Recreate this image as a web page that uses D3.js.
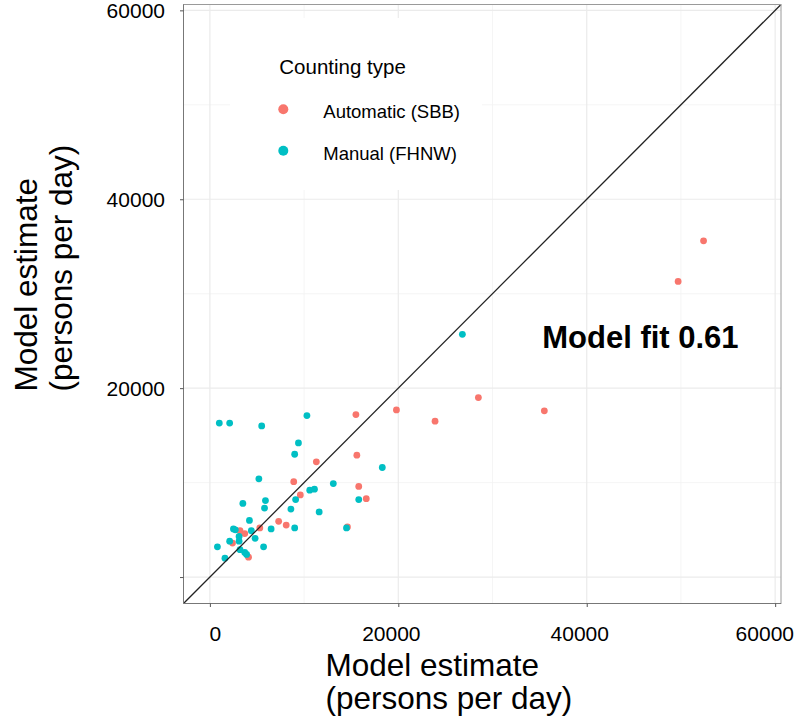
<!DOCTYPE html>
<html>
<head>
<meta charset="utf-8">
<script src="https://cdn.jsdelivr.net/npm/d3@7"></script>
<style>
  html, body { margin: 0; padding: 0; background: #fff; }
  svg text { font-family: "Liberation Sans", Arial, Helvetica, sans-serif; fill: #000; }
</style>
</head>
<body>
<svg id="chart" width="797" height="721"></svg>
<script>
// ---- data ----
const autoX = [52400, 49700, 28500, 35500, 23900, 19800, 15500, 15600, 11300, 15800, 16600, 8900, 9600, 7300, 8100, 14600, 5300, 3200, 3700, 2400, 4100];
const autoY = [35600, 31300, 19000, 17600, 16500, 17700, 17200, 12900, 12200, 9600, 8300, 10100, 8700, 5900, 5500, 5300, 5200, 4900, 4600, 3600, 2100];
const manualX = [26800, 1000, 2100, 5500, 10300, 9400, 9000, 18300, 5200, 13100, 10600, 11100, 5900, 9100, 15800, 3500, 5800, 8600, 11600, 4200, 9000, 14500, 6500, 2500, 2700, 4400, 3100, 4800, 2100, 3100, 800, 5700, 3200, 3700, 3900, 1600];
const manualY = [25700, 16300, 16300, 16000, 17100, 14200, 13000, 11600, 10400, 9900, 9200, 9300, 8100, 8200, 8200, 7800, 7300, 7200, 6900, 6000, 5200, 5200, 5100, 5100, 5000, 4900, 4300, 4100, 3800, 3800, 3200, 3200, 2900, 2600, 2400, 2000];
const seriesNames = ["Automatic (SBB)", "Manual (FHNW)"];
const seriesColors = ["#F8766D", "#00BFC4"];
const legendTitle = "Counting type";
const majorTicks = [0, 20000, 40000, 60000];
const minorTicks = [10000, 30000, 50000];
const xTickLabels = ["0", "20000", "40000", "60000"];
const yTickLabels = ["", "20000", "40000", "60000"];
const axisTitleLines = ["Model estimate", "(persons per day)"];
const annotationText = "Model fit 0.61";
const annotationX = 45700, annotationY = 25400;
const domain = [-2800, 60620];

// ---- layout ----
const svg = d3.select("#chart");
const L = 183.5, R = 781, T = 4.5, B = 603.5;
const x = d3.scaleLinear().domain(domain).range([L, R]);
const y = d3.scaleLinear().domain(domain).range([B, T]);

// panel background
svg.append("rect").attr("x", L).attr("y", T).attr("width", R - L).attr("height", B - T).attr("fill", "#fff");

// grid
const grid = svg.append("g");
minorTicks.forEach(v => {
  grid.append("line").attr("x1", x(v)).attr("x2", x(v)).attr("y1", T).attr("y2", B)
    .attr("stroke", "#f2f2f2").attr("stroke-width", 0.8);
  grid.append("line").attr("x1", L).attr("x2", R).attr("y1", y(v)).attr("y2", y(v))
    .attr("stroke", "#f2f2f2").attr("stroke-width", 0.8);
});
majorTicks.forEach(v => {
  grid.append("line").attr("x1", x(v)).attr("x2", x(v)).attr("y1", T).attr("y2", B)
    .attr("stroke", "#ebebeb").attr("stroke-width", 1.2);
  grid.append("line").attr("x1", L).attr("x2", R).attr("y1", y(v)).attr("y2", y(v))
    .attr("stroke", "#ebebeb").attr("stroke-width", 1.2);
});

// points
const autoData = autoX.map((v, i) => ({x: v, y: autoY[i]}));
const manualData = manualX.map((v, i) => ({x: v, y: manualY[i]}));
svg.append("g").selectAll("circle").data(autoData).join("circle")
  .attr("cx", d => x(d.x)).attr("cy", d => y(d.y)).attr("r", 3.4).attr("fill", seriesColors[0]);
svg.append("g").selectAll("circle").data(manualData).join("circle")
  .attr("cx", d => x(d.x)).attr("cy", d => y(d.y)).attr("r", 3.4).attr("fill", seriesColors[1]);

// identity line
svg.append("line").attr("x1", x(domain[0])).attr("y1", y(domain[0]))
  .attr("x2", x(domain[1])).attr("y2", y(domain[1]))
  .attr("stroke", "#222").attr("stroke-width", 1.3);

// annotation
svg.append("text").attr("x", x(annotationX)).attr("y", y(annotationY)).attr("dy", "0.35em")
  .attr("text-anchor", "middle").attr("font-size", 31).attr("font-weight", "bold").text(annotationText);

// legend
const lg = svg.append("g");
lg.append("rect").attr("x", 230).attr("y", 18).attr("width", 252).attr("height", 172).attr("fill", "#fff");
lg.append("text").attr("x", 279.3).attr("y", 74).attr("font-size", 20.5).text(legendTitle);
seriesNames.forEach((name, i) => {
  const cy = 109.3 + i * 41.4;
  lg.append("circle").attr("cx", 283.3).attr("cy", cy).attr("r", 5).attr("fill", seriesColors[i]);
  lg.append("text").attr("x", 323.3).attr("y", cy + 9).attr("font-size", 18.5).text(name);
});

// panel border
svg.append("rect").attr("x", L).attr("y", T).attr("width", R - L).attr("height", B - T)
  .attr("fill", "none").attr("stroke", "#9a9a9a").attr("stroke-width", 1);
svg.append("line").attr("x1", L).attr("x2", L).attr("y1", T).attr("y2", B).attr("stroke", "#777");
svg.append("line").attr("x1", L).attr("x2", R).attr("y1", B).attr("y2", B).attr("stroke", "#777");

// axes
const xAxis = d3.axisBottom(x).tickValues(majorTicks).tickSize(3.5).tickPadding(20)
  .tickFormat((d, i) => xTickLabels[i]);
const gx = svg.append("g").attr("transform", `translate(0,${B})`).call(xAxis);
gx.select(".domain").remove();
gx.selectAll(".tick line").attr("stroke", "#555");
gx.selectAll(".tick text").attr("font-size", 21).attr("fill", "#000")
  .attr("font-family", "Liberation Sans, Arial, sans-serif")
  .attr("dy", null).attr("y", 37.2).attr("text-anchor", "start");
gx.selectAll(".tick text").each(function() {
  const w = this.getComputedTextLength();
  const tr = this.parentNode.getAttribute("transform");
  const tx = +tr.match(/translate\(([-\d.]+)/)[1];
  let left = -0.765 * w + 8;
  if (tx + left + w > 794) left = 794 - tx - w;
  d3.select(this).attr("x", left);
});

const yAxis = d3.axisLeft(y).tickValues(majorTicks).tickSize(3.5).tickPadding(15)
  .tickFormat((d, i) => yTickLabels[i]);
const gy = svg.append("g").attr("transform", `translate(${L},0)`).call(yAxis);
gy.select(".domain").remove();
gy.selectAll(".tick line").attr("stroke", "#555");
gy.selectAll(".tick text").attr("font-size", 21).attr("fill", "#000")
  .attr("font-family", "Liberation Sans, Arial, sans-serif").attr("dy", "0.36em");

// axis titles
const xt = svg.append("text").attr("font-size", 31.5);
xt.append("tspan").attr("x", 325.5).attr("y", 675.5).text(axisTitleLines[0]);
xt.append("tspan").attr("x", 325.5).attr("y", 708.5).text(axisTitleLines[1]);

svg.append("text").attr("transform", "translate(36.7,391.5) rotate(-90)").attr("font-size", 31.5).text(axisTitleLines[0]);
svg.append("text").attr("transform", "translate(71.7,391.5) rotate(-90)").attr("font-size", 31.5).text(axisTitleLines[1]);
</script>
</body>
</html>
